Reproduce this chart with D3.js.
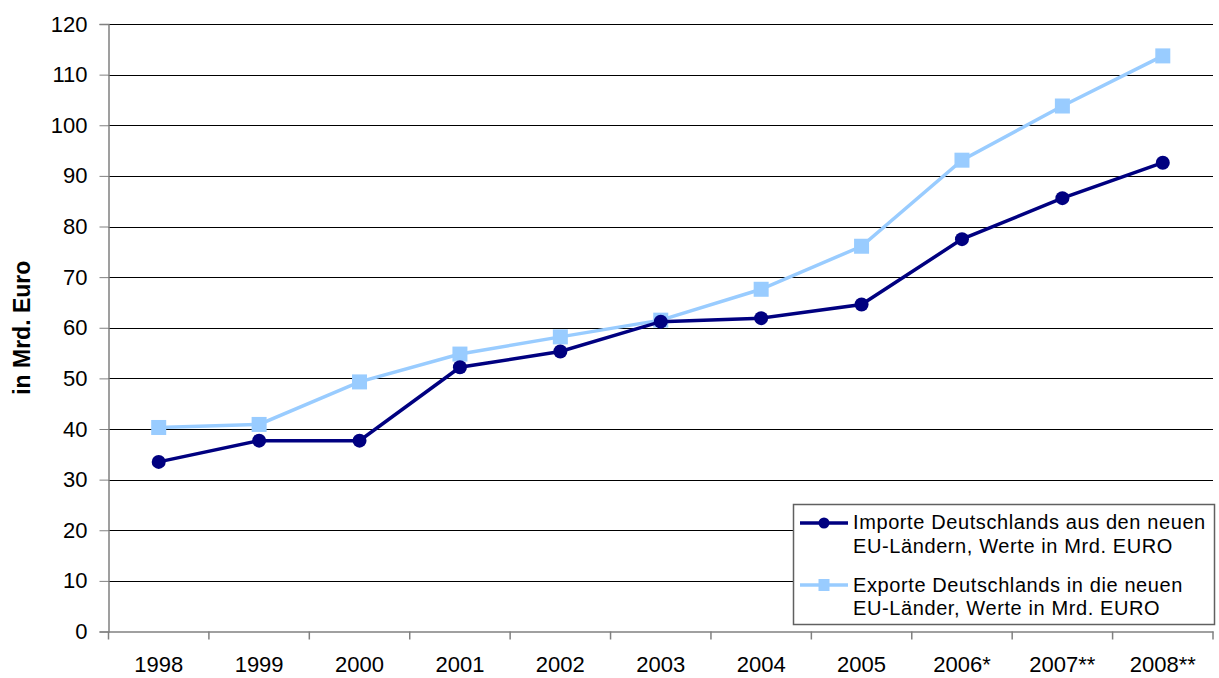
<!DOCTYPE html>
<html>
<head>
<meta charset="utf-8">
<script src="https://cdn.jsdelivr.net/npm/d3@7"></script>
<style>
  body { margin: 0; background: #fff; }
  svg text { font-family: Arial, "Liberation Sans", sans-serif; fill: #000; }
</style>
</head>
<body>
<svg id="chart" width="1219" height="678"></svg>
<script>
// Werte
const jahre = ["1998", "1999", "2000", "2001", "2002", "2003", "2004", "2005", "2006*", "2007**", "2008**"];
const importe = [33.5, 37.7, 37.7, 52.2, 55.3, 61.2, 61.9, 64.6, 77.5, 85.6, 92.6];
const exporte = [40.3, 40.9, 49.3, 54.8, 58.2, 61.5, 67.6, 76.1, 93.1, 103.8, 113.7];
const yTicks = [0, 10, 20, 30, 40, 50, 60, 70, 80, 90, 100, 110, 120];
const legendImporte = ["Importe Deutschlands aus den neuen", "EU-Ländern, Werte in Mrd. EURO"];
const legendExporte = ["Exporte Deutschlands in die neuen", "EU-Länder, Werte in Mrd. EURO"];

const colImp = "#000080";
const colExp = "#99ccff";

const plotL = 108.5, plotR = 1213, plotT = 24, plotB = 631.5;

const svg = d3.select("#chart");

const x = d3.scaleBand().domain(jahre).range([plotL, plotR]).padding(0);
const y = d3.scaleLinear().domain([0, 120]).range([plotB, plotT]);

// gridlines
svg.append("g")
  .selectAll("line")
  .data(yTicks.slice(1))
  .enter().append("line")
  .attr("x1", plotL).attr("x2", plotR)
  .attr("y1", d => Math.round(y(d)) + 0.5)
  .attr("y2", d => Math.round(y(d)) + 0.5)
  .attr("stroke", "#000")
  .attr("stroke-width", 1);

// y axis
const yAxis = svg.append("g")
  .attr("transform", "translate(" + plotL + ",0)")
  .call(d3.axisLeft(y).tickValues(yTicks).tickSize(9).tickPadding(12));
yAxis.select(".domain").attr("stroke", "#808080").attr("stroke-width", 1.5);
yAxis.selectAll(".tick line").attr("stroke", "#808080");
yAxis.selectAll("text").attr("font-size", "22px").attr("fill", "#000");

// x axis: labels centred, ticks on the category boundaries
const xAxis = svg.append("g")
  .attr("transform", "translate(0," + plotB + ")")
  .call(d3.axisBottom(x).tickSize(0).tickPadding(25));
xAxis.select(".domain").attr("stroke", "#808080").attr("stroke-width", 1.5);
xAxis.selectAll("text").attr("font-size", "22px").attr("fill", "#000");

svg.append("g")
  .selectAll("line")
  .data(jahre.map(d => x(d)).concat([plotR]))
  .enter().append("line")
  .attr("x1", d => d).attr("x2", d => d)
  .attr("y1", plotB).attr("y2", plotB + 8)
  .attr("stroke", "#808080")
  .attr("stroke-width", 1.5);

// y title
svg.append("text")
  .attr("transform", "translate(30," + ((plotT + plotB) / 2) + ") rotate(-90)")
  .attr("text-anchor", "middle")
  .attr("font-size", "23px")
  .attr("font-weight", "bold")
  .text("in Mrd. Euro");

const cx = d => x(d) + x.bandwidth() / 2;

const line = d3.line()
  .x((d, i) => cx(jahre[i]))
  .y(d => y(d));

// exporte
svg.append("path")
  .datum(exporte)
  .attr("d", line)
  .attr("fill", "none")
  .attr("stroke", colExp)
  .attr("stroke-width", 3.5);

svg.append("g")
  .selectAll("rect")
  .data(exporte)
  .enter().append("rect")
  .attr("x", (d, i) => cx(jahre[i]) - 7.5)
  .attr("y", d => y(d) - 7.5)
  .attr("width", 15)
  .attr("height", 15)
  .attr("fill", colExp);

// importe
svg.append("path")
  .datum(importe)
  .attr("d", line)
  .attr("fill", "none")
  .attr("stroke", colImp)
  .attr("stroke-width", 3.5);

svg.append("g")
  .selectAll("circle")
  .data(importe)
  .enter().append("circle")
  .attr("cx", (d, i) => cx(jahre[i]))
  .attr("cy", d => y(d))
  .attr("r", 7)
  .attr("fill", colImp);

// legend
const lg = svg.append("g");
lg.append("rect")
  .attr("x", 793.5).attr("y", 504.5)
  .attr("width", 421).attr("height", 120)
  .attr("fill", "#fff")
  .attr("stroke", "#606060")
  .attr("stroke-width", 1.5);

lg.append("line")
  .attr("x1", 800).attr("x2", 848).attr("y1", 523).attr("y2", 523)
  .attr("stroke", colImp).attr("stroke-width", 3.5);
lg.append("circle")
  .attr("cx", 824).attr("cy", 523).attr("r", 5.5)
  .attr("fill", colImp);

lg.append("line")
  .attr("x1", 800).attr("x2", 848).attr("y1", 585).attr("y2", 585)
  .attr("stroke", colExp).attr("stroke-width", 3.5);
lg.append("rect")
  .attr("x", 818.5).attr("y", 579).attr("width", 11).attr("height", 12)
  .attr("fill", colExp);

lg.selectAll("text.imp")
  .data(legendImporte)
  .enter().append("text")
  .attr("class", "imp")
  .attr("x", 853)
  .attr("y", (d, i) => 529 + i * 24)
  .attr("font-size", "20px")
  .attr("letter-spacing", "0.6px")
  .text(d => d);

lg.selectAll("text.exp")
  .data(legendExporte)
  .enter().append("text")
  .attr("class", "exp")
  .attr("x", 853)
  .attr("y", (d, i) => 592 + i * 23)
  .attr("font-size", "20px")
  .attr("letter-spacing", "0.6px")
  .text(d => d);
</script>
</body>
</html>
